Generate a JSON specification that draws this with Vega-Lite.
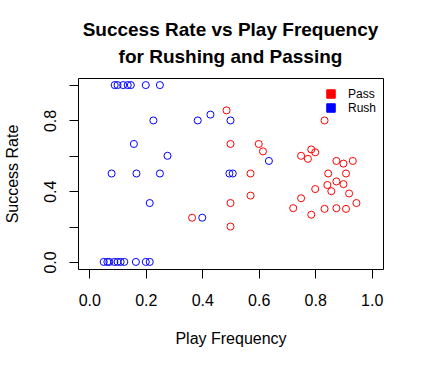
{
  "$schema": "https://vega.github.io/schema/vega-lite/v6.json",
  "autosize": "none",
  "width": 305,
  "height": 191,
  "padding": {"left": 78, "top": 78, "right": 41, "bottom": 99},
  "background": "white",
  "config": {
    "font": "Liberation Sans",
    "view": {"stroke": "black", "strokeWidth": 1}
  },
  "title": {
    "text": ["Success Rate vs Play Frequency", "for Rushing and Passing"],
    "font": "Liberation Sans",
    "fontSize": 19,
    "fontWeight": "bold",
    "color": "black",
    "lineHeight": 26.6,
    "anchor": "middle",
    "offset": 11
  },
  "data": {
    "values": [
      {"type": "Rush", "freq": 0.09, "rate": 1},
      {"type": "Rush", "freq": 0.1, "rate": 1},
      {"type": "Rush", "freq": 0.12, "rate": 1},
      {"type": "Rush", "freq": 0.136, "rate": 1},
      {"type": "Rush", "freq": 0.147, "rate": 1},
      {"type": "Rush", "freq": 0.2, "rate": 1},
      {"type": "Rush", "freq": 0.25, "rate": 1},
      {"type": "Rush", "freq": 0.429, "rate": 0.833},
      {"type": "Rush", "freq": 0.227, "rate": 0.8},
      {"type": "Rush", "freq": 0.384, "rate": 0.8},
      {"type": "Rush", "freq": 0.5, "rate": 0.8},
      {"type": "Rush", "freq": 0.158, "rate": 0.667},
      {"type": "Rush", "freq": 0.277, "rate": 0.6},
      {"type": "Rush", "freq": 0.636, "rate": 0.571},
      {"type": "Rush", "freq": 0.079, "rate": 0.5},
      {"type": "Rush", "freq": 0.167, "rate": 0.5},
      {"type": "Rush", "freq": 0.25, "rate": 0.5},
      {"type": "Rush", "freq": 0.496, "rate": 0.5},
      {"type": "Rush", "freq": 0.508, "rate": 0.5},
      {"type": "Rush", "freq": 0.214, "rate": 0.333},
      {"type": "Rush", "freq": 0.4, "rate": 0.25},
      {"type": "Rush", "freq": 0.051, "rate": 0},
      {"type": "Rush", "freq": 0.064, "rate": 0},
      {"type": "Rush", "freq": 0.071, "rate": 0},
      {"type": "Rush", "freq": 0.089, "rate": 0},
      {"type": "Rush", "freq": 0.1, "rate": 0},
      {"type": "Rush", "freq": 0.111, "rate": 0},
      {"type": "Rush", "freq": 0.124, "rate": 0},
      {"type": "Rush", "freq": 0.165, "rate": 0},
      {"type": "Rush", "freq": 0.2, "rate": 0},
      {"type": "Rush", "freq": 0.214, "rate": 0},
      {"type": "Pass", "freq": 0.486, "rate": 0.857},
      {"type": "Pass", "freq": 0.5, "rate": 0.667},
      {"type": "Pass", "freq": 0.571, "rate": 0.5},
      {"type": "Pass", "freq": 0.5, "rate": 0.333},
      {"type": "Pass", "freq": 0.571, "rate": 0.375},
      {"type": "Pass", "freq": 0.364, "rate": 0.25},
      {"type": "Pass", "freq": 0.5, "rate": 0.2},
      {"type": "Pass", "freq": 0.833, "rate": 0.8},
      {"type": "Pass", "freq": 0.6, "rate": 0.667},
      {"type": "Pass", "freq": 0.615, "rate": 0.625},
      {"type": "Pass", "freq": 0.75, "rate": 0.6},
      {"type": "Pass", "freq": 0.774, "rate": 0.583},
      {"type": "Pass", "freq": 0.786, "rate": 0.636},
      {"type": "Pass", "freq": 0.8, "rate": 0.62},
      {"type": "Pass", "freq": 0.875, "rate": 0.571},
      {"type": "Pass", "freq": 0.9, "rate": 0.556},
      {"type": "Pass", "freq": 0.933, "rate": 0.571},
      {"type": "Pass", "freq": 0.846, "rate": 0.5},
      {"type": "Pass", "freq": 0.909, "rate": 0.5},
      {"type": "Pass", "freq": 0.875, "rate": 0.455},
      {"type": "Pass", "freq": 0.9, "rate": 0.44},
      {"type": "Pass", "freq": 0.843, "rate": 0.435},
      {"type": "Pass", "freq": 0.8, "rate": 0.412},
      {"type": "Pass", "freq": 0.857, "rate": 0.4},
      {"type": "Pass", "freq": 0.92, "rate": 0.387},
      {"type": "Pass", "freq": 0.75, "rate": 0.36},
      {"type": "Pass", "freq": 0.946, "rate": 0.333},
      {"type": "Pass", "freq": 0.722, "rate": 0.304},
      {"type": "Pass", "freq": 0.786, "rate": 0.267},
      {"type": "Pass", "freq": 0.833, "rate": 0.3},
      {"type": "Pass", "freq": 0.875, "rate": 0.304},
      {"type": "Pass", "freq": 0.909, "rate": 0.3}
    ]
  },
  "mark": {"type": "point", "shape": "circle", "filled": false, "size": 50, "strokeWidth": 1, "opacity": 1},
  "encoding": {
    "x": {
      "field": "freq",
      "type": "quantitative",
      "scale": {"domain": [-0.04, 1.04], "nice": false, "zero": false},
      "axis": {
        "title": "Play Frequency",
        "values": [0, 0.2, 0.4, 0.6, 0.8, 1.0],
        "format": ".1f",
        "grid": false,
        "domain": false,
        "tickColor": "black",
        "tickSize": 9,
        "labelFontSize": 16,
        "labelColor": "black",
        "labelPadding": 14,
        "labelFont": "Liberation Sans",
        "titleFont": "Liberation Sans",
        "titleFontSize": 16,
        "titleFontWeight": "normal",
        "titleColor": "black",
        "titlePadding": 22
      }
    },
    "y": {
      "field": "rate",
      "type": "quantitative",
      "scale": {"domain": [-0.04, 1.04], "nice": false, "zero": false},
      "axis": {
        "title": "Success Rate",
        "values": [0, 0.2, 0.4, 0.6, 0.8, 1.0],
        "labelExpr": "(abs(datum.value) < 0.01 || abs(datum.value - 0.4) < 0.01 || abs(datum.value - 0.8) < 0.01) ? format(datum.value, '.1f') : ''",
        "grid": false,
        "domain": false,
        "tickColor": "black",
        "tickSize": 9,
        "labelAngle": -90,
        "labelAlign": "center",
        "labelBaseline": "bottom",
        "labelFontSize": 16,
        "labelColor": "black",
        "labelPadding": 11,
        "labelFont": "Liberation Sans",
        "titleFont": "Liberation Sans",
        "titleFontSize": 16,
        "titleFontWeight": "normal",
        "titleColor": "black",
        "titlePadding": 22
      }
    },
    "color": {
      "field": "type",
      "type": "nominal",
      "scale": {"domain": ["Pass", "Rush"], "range": ["#FF0000", "#0000FF"]},
      "legend": {
        "title": null,
        "orient": "none",
        "legendX": 247,
        "legendY": 10,
        "padding": 0,
        "symbolType": "square",
        "symbolSize": 72,
        "symbolStrokeWidth": 1,
        "labelFontSize": 12,
        "labelFont": "Liberation Sans",
        "labelColor": "black",
        "labelOffset": 11,
        "rowPadding": 0,
        "encoding": {
          "symbols": {
            "fill": {"condition": {"test": "datum.value === 'Pass'", "value": "#FF0000"}, "value": "#0000FF"},
            "stroke": {"value": "black"},
            "strokeWidth": {"value": 1},
            "opacity": {"value": 1}
          }
        }
      }
    }
  }
}
